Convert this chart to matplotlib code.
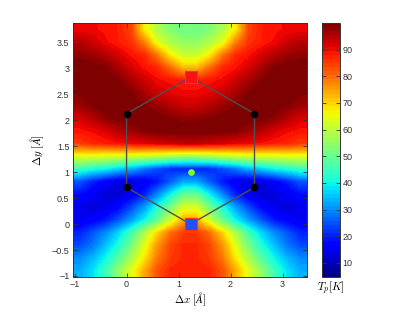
import numpy as np
import matplotlib
matplotlib.use('Agg')
import matplotlib.pyplot as plt

plt.rcParams['mathtext.fontset'] = 'cm'
plt.rcParams['font.family'] = ['Liberation Sans', 'DejaVu Sans']

# extent of the map (Angstrom)
x_range = (-1.03, 3.47)
y_range = (-1.02, 3.88)

# Tp [K], rows top (y=3.76) to bottom (y=-0.90), 18 columns x=-0.9..3.35
tp_rows = [
    [90, 90, 89, 88, 84, 67, 58, 53, 51, 51, 53, 58, 67, 84, 88, 89, 90, 90],
    [95, 93, 90, 88, 86, 78, 64, 58, 55, 55, 58, 64, 78, 86, 88, 90, 93, 95],
    [98, 97, 95, 92, 89, 87, 79, 67, 61, 61, 67, 79, 87, 89, 92, 95, 97, 98],
    [100, 100, 99, 96, 92, 89, 87, 80, 72, 72, 80, 87, 89, 92, 96, 99, 100, 100],
    [100, 100, 100, 99, 96, 93, 90, 89, 88, 88, 89, 90, 93, 96, 99, 100, 100, 100],
    [99, 100, 100, 100, 99, 96, 93, 91, 90, 90, 91, 93, 96, 99, 100, 100, 100, 99],
    [97, 99, 100, 100, 100, 99, 97, 95, 93, 93, 95, 97, 99, 100, 100, 100, 99, 97],
    [92, 95, 98, 100, 100, 100, 100, 99, 98, 98, 99, 100, 100, 100, 100, 98, 95, 92],
    [89, 90, 92, 95, 97, 99, 100, 100, 100, 100, 100, 100, 99, 97, 95, 92, 90, 89],
    [85, 87, 88, 89, 90, 91, 92, 93, 94, 94, 93, 92, 91, 90, 89, 88, 87, 85],
    [64, 64, 63, 63, 62, 61, 60, 58, 57, 57, 58, 60, 61, 62, 63, 63, 64, 64],
    [45, 42, 40, 36, 33, 28, 24, 21, 20, 20, 21, 24, 28, 33, 36, 40, 42, 45],
    [25, 20, 16, 13, 13, 15, 19, 26, 33, 33, 26, 19, 15, 13, 13, 16, 20, 25],
    [18, 15, 13, 12, 15, 20, 30, 40, 50, 50, 40, 30, 20, 15, 12, 13, 15, 18],
    [14, 13, 14, 17, 24, 32, 42, 52, 63, 63, 52, 42, 32, 24, 17, 14, 13, 14],
    [15, 16, 19, 25, 32, 40, 50, 62, 74, 74, 62, 50, 40, 32, 25, 19, 16, 15],
    [20, 25, 30, 37, 46, 58, 70, 80, 85, 85, 80, 70, 58, 46, 37, 30, 25, 20],
    [24, 28, 35, 42, 52, 64, 76, 84, 87, 87, 84, 76, 64, 52, 42, 35, 28, 24],
    [30, 34, 40, 48, 58, 68, 79, 85, 87, 87, 85, 79, 68, 58, 48, 40, 34, 30],
    [33, 38, 45, 55, 64, 74, 83, 87, 88, 88, 87, 83, 74, 64, 55, 45, 38, 33],
]
tp_min, tp_max = 4.7, 100.0

# hexagon (graphene ring) vertices
hex_x = [1.23, 0.0, 0.0, 1.23, 2.46, 2.46, 1.23]
hex_y = [0.0, 0.71, 2.13, 2.84, 2.13, 0.71, 0.0]
atom_x = [0.0, 0.0, 2.46, 2.46]
atom_y = [0.71, 2.13, 2.13, 0.71]
sq_top = (1.23, 2.84)
sq_bot = (1.23, 0.0)
center_pt = (1.23, 1.0)

x_ticks = [-1, 0, 1, 2, 3]
y_ticks = [-1, -0.5, 0, 0.5, 1, 1.5, 2, 2.5, 3, 3.5]
cb_ticks = [10, 20, 30, 40, 50, 60, 70, 80, 90]

W, H = 415, 313
fig = plt.figure(figsize=(W / 100, H / 100), dpi=100)
ax = fig.add_axes([73 / W, 1 - 277 / H, (307 - 73) / W, (277 - 23) / H])
cax = fig.add_axes([322 / W, 1 - 277 / H, (340 - 322) / W, (277 - 23) / H])

cmap = plt.get_cmap('jet', 64)
data = np.array(tp_rows, dtype=float)
im = ax.imshow(data, extent=[x_range[0], x_range[1], y_range[0], y_range[1]],
               cmap=cmap, vmin=tp_min, vmax=tp_max, aspect='auto',
               interpolation='bilinear', origin='upper')

ax.plot(hex_x, hex_y, color='#505050', lw=1.0, zorder=3)
ax.plot(atom_x, atom_y, 'o', color='black', ms=4.5, zorder=4)
ax.plot([sq_top[0]], [sq_top[1]], 's', mfc='#ff1010', mec='#6a5acd', ms=8, mew=0.8, zorder=5)
ax.plot([sq_bot[0]], [sq_bot[1]], 's', mfc='#2050ff', mec='#ff3010', ms=8, mew=0.8, zorder=5)
ax.plot([center_pt[0]], [center_pt[1]], 'o', color='#80ff20', ms=3.8, zorder=5)

ax.set_xlim(*x_range)
ax.set_ylim(*y_range)
ax.set_xticks(x_ticks)
ax.set_yticks(y_ticks)
ax.set_xticklabels([('\u2212' if t < 0 else '') + f'{abs(t):g}' for t in x_ticks])
ax.set_yticklabels([('\u2212' if t < 0 else '') + f'{abs(t):g}' for t in y_ticks])
ax.tick_params(direction='in', length=3, width=0.6, labelsize=6.5, colors='#333333',
               top=True, right=True, pad=2.5)
for s in ax.spines.values():
    s.set_color('#333333')
    s.set_linewidth(0.7)
ax.set_xlabel(r'$\Delta x\ [\AA]$', fontsize=8, labelpad=1)
ax.set_ylabel(r'$\Delta y\ [\AA]$', fontsize=8, labelpad=4)

cb = fig.colorbar(im, cax=cax, ticks=cb_ticks)
cb.outline.set_edgecolor('#333333')
cb.outline.set_linewidth(0.7)
cax.tick_params(direction='in', length=3, width=0.6, labelsize=6.5, colors='#333333',
                left=True, right=True, pad=2)
fig.text(331 / W, 1 - 288 / H, r'$T_p[K]$', fontsize=8, ha='center', va='center')

fig.savefig('out.png', dpi=100)
